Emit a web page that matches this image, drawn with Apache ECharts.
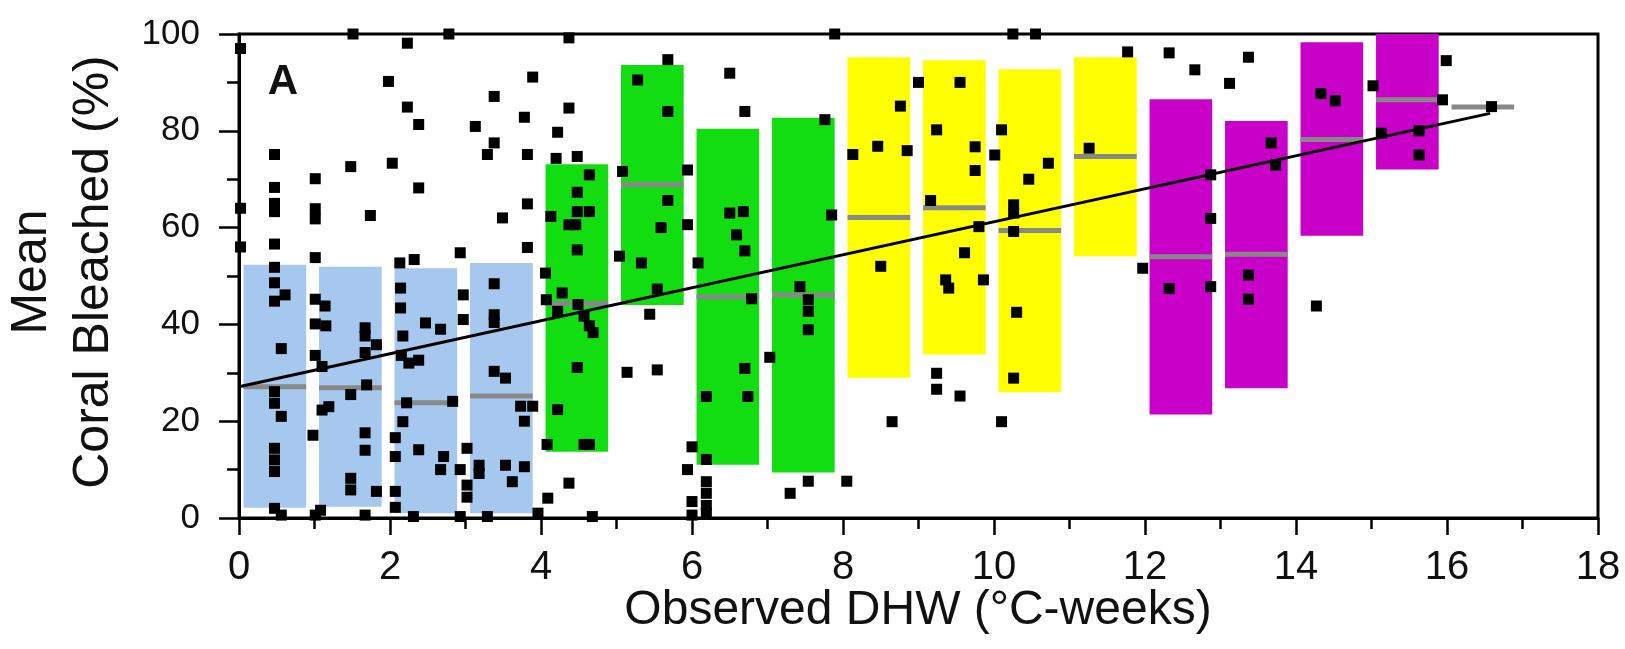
<!DOCTYPE html>
<html>
<head>
<meta charset="utf-8">
<script src="https://cdn.jsdelivr.net/npm/echarts@6/dist/echarts.min.js"></script>
<style>
html,body{margin:0;padding:0;background:#fff;}
#chart{width:1625px;height:649px;}
</style>
</head>
<body>
<div id="chart"></div>
<script>
// ---------- DATA ----------
const xTitle = 'Observed DHW (°C-weeks)';
const yTitle = 'Mean\nCoral Bleached (%)';
const panelLabel = 'A';

// DHW bins (left edge of each 1 °C-week bin)
const binStarts   = [0, 1, 2, 3, 4, 5, 6, 7, 8, 9, 10, 11, 12, 13, 14, 15];
const boxBottoms  = [2.1, 2.3, 1.0, 1.0, 13.7, 44.0, 11.0, 9.4, 29.0, 33.8, 26.0, 54.1, 21.4, 26.8, 58.3, 72.0];
const boxTops     = [52.3, 51.9, 51.6, 52.7, 73.1, 93.6, 80.4, 82.7, 95.2, 94.6, 92.7, 95.2, 86.5, 82.0, 98.3, 100];
const medianBins  = [0, 1, 2, 3, 4, 5, 6, 7, 8, 9, 10, 11, 12, 13, 14, 15, 16];
const medians     = [27.1, 26.9, 23.8, 25.2, 44.3, 68.9, 45.7, 46.1, 62.1, 64.1, 59.4, 74.7, 54.0, 54.5, 78.2, 86.4, 84.9];

// regression line end points
const regLine = [[0, 27.1], [16.57, 83.6]];

// observations [DHW, % bleached]
const observations = [
  [0.02,97],[0.02,64],[0.02,56],
  [0.47,75.1],[0.47,68.3],[0.47,65.0],[0.47,63.3],[0.47,56.6],[0.47,51.8],[0.47,48.6],[0.47,44.8],[0.61,46.1],[0.56,35.0],
  [0.47,26.1],[0.47,23.7],[0.56,21.0],[0.47,14.4],[0.47,12.0],[0.47,9.6],[0.47,2.0],[0.56,0.6],
  [1.01,70.1],[1.01,63.9],[1.01,61.8],[1.01,53.8],[1.01,45.2],[1.14,43.8],[1.01,40.1],[1.15,39.7],[1.01,33.6],[1.1,31.3],
  [1.1,22.3],[1.19,23.0],[0.98,17.1],[1.08,1.6],[1.01,0.6],
  [1.48,72.6],[1.51,100],[1.48,25.5],[1.48,8.2],[1.48,5.8],
  [1.74,62.5],[1.67,39.3],[1.67,37.6],[1.67,34.2],[1.69,27.5],[1.67,17.6],[1.67,14.0],[1.67,0.6],[1.82,35.8],[1.82,5.5],
  [1.98,90.2],
  [2.03,73.3],[2.23,98.1],[2.78,100],[2.23,84.9],[2.38,81.3],[2.38,68.2],[2.13,52.7],[2.32,53.4],[2.93,54.8],[2.14,47.5],
  [2.14,43.4],[2.47,40.3],[2.67,39.0],[2.17,37.6],[2.97,46.1],[2.97,41.0],[2.15,33.6],[2.25,32.0],[2.38,32.6],[2.22,23.8],
  [2.83,24.1],[2.17,19.9],[2.07,16.6],[2.07,12.7],[2.38,14.1],[2.71,12.7],[2.67,10.0],[2.93,10.0],[2.07,5.5],[2.07,2.2],
  [2.31,0.3],[2.93,0.3],
  [3.02,14.4],[3.02,6.8],[3.02,4.3],[3.38,87.1],[3.89,91.1],[3.13,80.9],[3.38,77.5],[3.29,75.1],[3.78,82.8],[3.82,75.1],
  [3.49,62.0],[3.82,64.9],[3.82,55.9],[3.38,48.4],[3.38,42.0],[3.38,40.4],[3.38,30.3],[3.53,28.9],[3.73,23.1],[3.89,23.1],
  [3.78,20.0],[3.18,10.9],[3.18,9.2],[3.53,10.9],[3.62,7.5],[3.78,10.6],[3.29,0.3],[3.96,1.0],
  [4.09,4.1],[4.22,79.7],[4.2,74.3],[4.13,62.3],[4.06,50.6],[4.07,45.1],[4.22,42.7],[4.22,22.4],[4.08,15.2],
  [4.37,99.2],[4.37,84.7],[4.48,74.7],[4.64,70.9],[4.48,67.3],[4.48,63.3],[4.64,63.3],[4.37,60.6],[4.46,60.6],[4.48,55.4],
  [4.28,46.5],[4.49,44.1],[4.57,41.7],[4.64,39.7],[4.69,38.3],[4.48,31.1],[4.57,15.2],[4.64,15.2],[4.37,7.2],[4.68,0.3],
  [5.68,94.7],[5.28,90.5],[5.68,84.0],[5.08,71.6],[5.94,71.9],[5.68,65.6],[5.59,60.0],[5.94,60.6],[5.04,54.1],[5.33,52.7],
  [5.54,47.3],[5.44,42.1],[5.14,30.1],[5.54,30.6],[5.94,10.0],[6.0,14.7],[6.0,3.4],[6.0,0.6],
  [6.08,52.7],[6.19,25.1],[6.19,12.1],[6.19,7.5],[6.19,5.1],[6.19,2.6],[6.19,0.9],[6.5,91.9],[6.7,84.0],[6.5,63.0],
  [6.68,63.3],[6.59,58.5],[6.7,55.2],[6.79,45.3],[6.7,30.9],[6.74,25.1],
  [7.03,33.2],[7.43,47.8],[7.54,45.1],[7.54,42.7],[7.54,38.9],[7.54,7.6],[7.3,5.1],[7.76,82.3],[7.85,62.6],[7.89,100],[8.05,7.6],
  [8.13,75.1],[8.46,76.8],[8.5,52.0],[9.0,90.0],[8.76,85.1],[8.85,75.9],[8.65,19.9],
  [9.55,90.0],[9.24,80.2],[9.75,76.7],[9.75,71.8],[9.16,65.6],[9.8,60.2],[9.61,54.8],[9.36,49.2],[9.4,47.5],[9.86,49.2],
  [9.24,29.9],[9.24,26.6],[9.55,25.2],[10.01,75.0],
  [10.25,100],[10.55,100],[10.1,80.2],[10.72,73.3],[10.46,70.0],[10.26,64.7],[10.26,63.0],[10.26,59.2],[10.3,42.5],
  [10.26,28.9],[10.1,19.9],
  [11.77,96.3],[11.26,76.4],[11.97,51.6],
  [12.32,96.1],[12.66,92.6],[12.87,70.9],[12.87,61.9],[12.32,47.4],[12.87,47.8],
  [13.12,89.8],[13.37,95.2],[13.67,77.5],[13.73,72.9],[13.37,50.2],[13.37,45.2],
  [14.33,87.7],[14.52,86.2],[14.27,43.8],[15.02,89.3],
  [15.99,94.5],[15.94,86.4],[15.13,79.5],[15.63,80.0],[15.63,75.0],
  [16.59,85.0]
];

// ---------- STYLE ----------
const groupColors = ['#a6c8ee', '#11dd11', '#ffff00', '#c800c8'];
const BOX_L = 0.06, BOX_R = 0.89;
const FONT = "'Liberation Sans', Arial, Helvetica, sans-serif";

const boxData = binStarts.map((b, i) => [b, boxBottoms[i], boxTops[i]]);
const medianData = medianBins.map((b, i) => [b, medians[i]]);

const chart = echarts.init(document.getElementById('chart'), null, {renderer: 'canvas'});

const option = {
  backgroundColor: '#fff',
  animation: false,
  grid: {left: 239, right: 27, top: 34, bottom: 131, show: true, borderColor: '#000', borderWidth: 3, backgroundColor: 'transparent'},
  xAxis: {
    type: 'value', min: 0, max: 18, interval: 2,
    axisLine: {show: true, onZero: false, lineStyle: {color: '#000', width: 3}},
    axisTick: {show: true, length: 17, inside: false, lineStyle: {color: '#000', width: 2.5}},
    minorTick: {show: true, splitNumber: 2, length: 11, lineStyle: {color: '#000', width: 2.5}},
    splitLine: {show: false},
    axisLabel: {fontSize: 40, color: '#111', margin: 30, fontFamily: FONT}
  },
  yAxis: {
    type: 'value', min: 0, max: 100, interval: 20,
    axisLine: {show: true, onZero: false, lineStyle: {color: '#000', width: 3}},
    axisTick: {show: true, length: 20, lineStyle: {color: '#000', width: 2.5}},
    minorTick: {show: true, splitNumber: 2, length: 12, lineStyle: {color: '#000', width: 2.5}},
    splitLine: {show: false},
    axisLabel: {fontSize: 35, color: '#111', margin: 39, fontFamily: FONT}
  },
  graphic: [
    {type: 'text', x: 63, y: 272, rotation: Math.PI / 2,
     style: {text: yTitle, fontSize: 50, lineHeight: 62, fontFamily: FONT, fill: '#111', textAlign: 'center', textVerticalAlign: 'middle'}},
    {type: 'text', x: 918, y: 611,
     style: {text: xTitle, fontSize: 48, fontFamily: FONT, fill: '#111', textAlign: 'center', textVerticalAlign: 'middle'}},
    {type: 'text', x: 283, y: 82, z: 100,
     style: {text: panelLabel, fontSize: 42, fontWeight: 'bold', fontFamily: FONT, fill: '#111', textAlign: 'center', textVerticalAlign: 'middle'}}
  ],
  series: [
    {
      type: 'custom', z: 1, clip: true,
      data: boxData,
      encode: {x: 0, y: [1, 2]},
      renderItem: function (params, api) {
        const b = api.value(0);
        const p1 = api.coord([b + BOX_L, api.value(2)]);
        const p2 = api.coord([b + BOX_R, api.value(1)]);
        return {type: 'rect', shape: {x: p1[0], y: p1[1], width: p2[0] - p1[0], height: p2[1] - p1[1]},
                style: {fill: groupColors[Math.floor(b / 4)]}};
      }
    },
    {
      type: 'custom', z: 2, clip: true,
      data: medianData,
      encode: {x: 0, y: 1},
      renderItem: function (params, api) {
        const b = api.value(0);
        const p1 = api.coord([b + BOX_L, api.value(1)]);
        const p2 = api.coord([b + BOX_R, api.value(1)]);
        return {type: 'rect', shape: {x: p1[0], y: p1[1] - 2.5, width: p2[0] - p1[0], height: 5},
                style: {fill: '#888888'}};
      }
    },
    {
      type: 'line', z: 3, data: regLine, symbol: 'none', silent: true,
      lineStyle: {color: '#000', width: 3}
    },
    {
      type: 'scatter', z: 4, data: observations, symbol: 'rect', symbolSize: 11, clip: true,
      itemStyle: {color: '#000', opacity: 1}
    }
  ]
};
chart.setOption(option);
</script>
</body>
</html>
